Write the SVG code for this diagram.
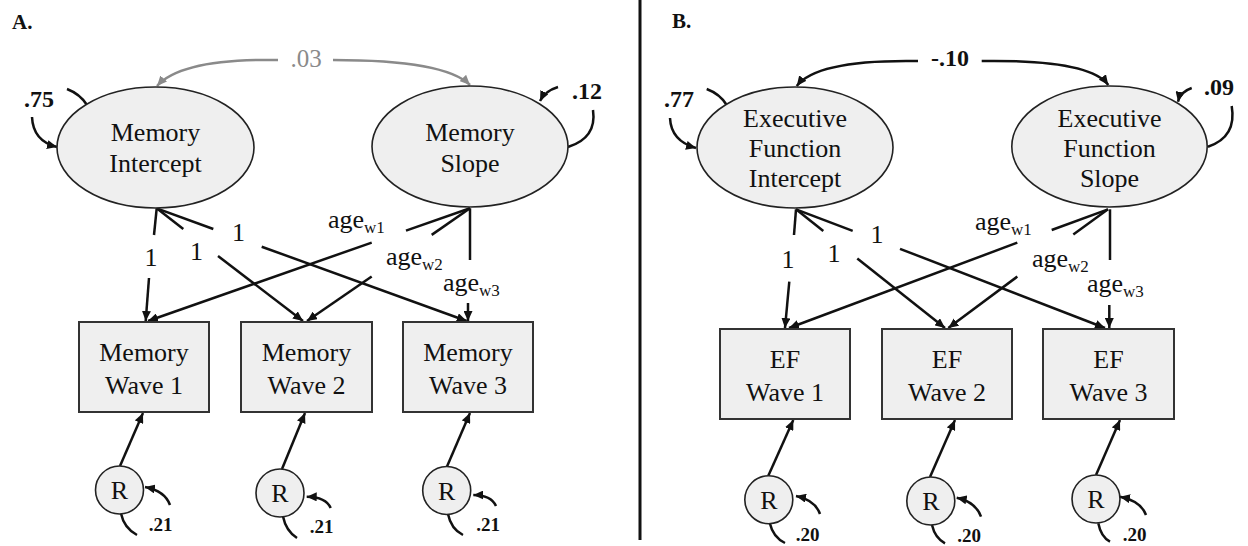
<svg xmlns="http://www.w3.org/2000/svg" width="1248" height="546" viewBox="0 0 1248 546" font-family="'Liberation Serif', 'Times New Roman', 'DejaVu Serif', serif">
<defs>
<marker id="ah" markerUnits="userSpaceOnUse" markerWidth="11" markerHeight="9" refX="10" refY="4.5" orient="auto"><path d="M0,0 L10,4.5 L0,9 z" fill="#111"/></marker>
<marker id="ahg" markerUnits="userSpaceOnUse" markerWidth="11" markerHeight="9" refX="10" refY="4.5" orient="auto"><path d="M0,0 L10,4.5 L0,9 z" fill="#8a8a8a"/></marker>
<style>
.lat{fill:#efefef;stroke:#222;stroke-width:1.6}
.box{fill:#efefef;stroke:#333;stroke-width:2}
.t{font-size:26px;fill:#111;text-anchor:middle}
.lb{font-size:26px;fill:#111}
.sub{font-size:17px}
.b{font-weight:bold;font-size:24px;fill:#111;text-anchor:middle}
.rb{font-weight:bold;font-size:19px;fill:#111;text-anchor:middle}
.ttl{font-weight:bold;font-size:21px;fill:#111}
.c{fill:none;stroke:#111;stroke-width:2.5}
.a{fill:none;stroke:#111;stroke-width:2.5;marker-end:url(#ah)}
.g{fill:none;stroke:#8a8a8a;stroke-width:2.5;marker-end:url(#ahg)}
</style>
</defs>
<rect width="1248" height="546" fill="#fff"/>
<text class="ttl" x="12" y="29">A.</text>
<text class="ttl" x="672" y="28">B.</text>
<line x1="640" y1="0" x2="640" y2="540" stroke="#111" stroke-width="3"/>

<g id="connectors">
<path class="g" d="M278,60 C220,59 175,66 157,86"/>
<path class="g" d="M333,60 C400,60 452,67 470,85"/>
<text x="306" y="67" font-size="25" fill="#8a8a8a" text-anchor="middle">.03</text>
<path class="c" d="M67,89 Q80,94 87,105"/>
<path class="a" d="M32,117 Q33,141 57,147"/>
<text class="b" x="39" y="107">.75</text>
<path class="a" d="M558,87 Q545,91 540,101"/>
<path class="c" d="M593,110 Q597,138 568,147"/>
<text class="b" x="587" y="99">.12</text>
<path class="c" d="M156.7,208.3 L154,235"/>
<path class="a" d="M149,278 L145.7,321"/>
<text class="t" x="151" y="266">1</text>
<path class="c" d="M156.7,208.3 L183.3,229"/>
<path class="a" d="M218,256 L303,321"/>
<text class="t" x="196.5" y="260">1</text>
<path class="c" d="M156.7,208.3 L213.3,229"/>
<path class="a" d="M261.7,246.7 L466.7,321"/>
<text class="t" x="238.5" y="241">1</text>
<path class="c" d="M470,208.3 L406,230.6"/>
<path class="a" d="M371.7,242.6 L148,321"/>
<text class="lb" x="328" y="228">age<tspan class="sub" dy="5">w1</tspan></text>
<path class="c" d="M470,208.3 L431.7,234.9"/>
<path class="a" d="M371.7,276.5 L307,321"/>
<text class="lb" x="386" y="265">age<tspan class="sub" dy="5">w2</tspan></text>
<path class="c" d="M470,208.3 L470,260"/>
<path class="a" d="M468,303 L468,321"/>
<text class="lb" x="443" y="291">age<tspan class="sub" dy="5">w3</tspan></text>
<path class="a" d="M120,466 L143,413"/>
<path class="a" d="M282,469 L305,413"/>
<path class="a" d="M447,466.5 L470,413"/>
<path class="a" d="M170,505 Q165,491 145,487"/>
<path class="c" d="M121,513.5 Q124,528 137,535"/>
<text class="rb" x="160.5" y="531">.21</text>
<path class="a" d="M330.7,508 Q326,497 306.7,496.7"/>
<path class="c" d="M283,516.5 Q286,531 297,538"/>
<text class="rb" x="321.5" y="533">.21</text>
<path class="a" d="M496,506 Q491,495 473.3,495"/>
<path class="c" d="M448,514 Q451,529 463,535"/>
<text class="rb" x="488" y="531">.21</text>

<path class="a" d="M918,61 C860,60 812,66 796.7,86"/>
<path class="a" d="M981.7,61 C1050,60 1095,67 1108.3,85"/>
<text class="b" x="950" y="66">-.10</text>
<path class="c" d="M706.7,89 Q720,94 726.7,105"/>
<path class="a" d="M670,118 Q671,141 696,148"/>
<text class="b" x="679" y="107">.77</text>
<path class="a" d="M1191.7,88 Q1180,92 1178,101.7"/>
<path class="c" d="M1231.7,106 Q1237,137 1208,146.7"/>
<text class="b" x="1219" y="95">.09</text>
<path class="c" d="M796,209.3 L794,235"/>
<path class="a" d="M789.3,281.7 L785,328"/>
<text class="t" x="788" y="268">1</text>
<path class="c" d="M796,209.3 L823.3,231"/>
<path class="a" d="M857.3,258.4 L945,328"/>
<text class="t" x="834" y="262">1</text>
<path class="c" d="M796,209.3 L852.7,230.8"/>
<path class="a" d="M900,248.8 L1105,328"/>
<text class="t" x="877" y="243">1</text>
<path class="c" d="M1108,209.3 L1051.7,230"/>
<path class="a" d="M1017.3,242.7 L789,328"/>
<text class="lb" x="975" y="230">age<tspan class="sub" dy="5">w1</tspan></text>
<path class="c" d="M1108,209.3 L1073.3,234.6"/>
<path class="a" d="M1017.3,276.6 L948.3,328"/>
<text class="lb" x="1032" y="267">age<tspan class="sub" dy="5">w2</tspan></text>
<path class="c" d="M1110,209.3 L1110,260"/>
<path class="a" d="M1109.3,305 L1109.3,328"/>
<text class="lb" x="1087" y="292">age<tspan class="sub" dy="5">w3</tspan></text>
<path class="a" d="M768.3,475.7 L793.3,420"/>
<path class="a" d="M930,477 L955,420"/>
<path class="a" d="M1096,475 L1120,420"/>
<path class="a" d="M820,514 Q815,500 796,496"/>
<path class="c" d="M770,523.7 Q773,537 785,543"/>
<text class="rb" x="807.5" y="541">.20</text>
<path class="a" d="M981,516.7 Q976,502 956.7,497.7"/>
<path class="c" d="M932,525 Q935,538 945,543.3"/>
<text class="rb" x="969" y="542">.20</text>
<path class="a" d="M1146,515 Q1141,501 1120,496.7"/>
<path class="c" d="M1098.3,523.3 Q1101,537 1110,541.7"/>
<text class="rb" x="1134.7" y="541">.20</text>
</g>

<g id="memory-intercept"><ellipse class="lat" cx="155.5" cy="147.5" rx="98.5" ry="60.5"/><text class="t" x="155.5" y="141">Memory</text><text class="t" x="155.5" y="172">Intercept</text></g>
<g id="memory-slope"><ellipse class="lat" cx="470" cy="146.5" rx="98" ry="60.5"/><text class="t" x="470" y="141">Memory</text><text class="t" x="470" y="172">Slope</text></g>
<g id="memory-wave1"><rect class="box" x="79" y="322" width="130" height="90"/><text class="t" x="144" y="361">Memory</text><text class="t" x="144" y="394">Wave 1</text></g>
<g id="memory-wave2"><rect class="box" x="241" y="322" width="131" height="90"/><text class="t" x="306.5" y="361">Memory</text><text class="t" x="306.5" y="394">Wave 2</text></g>
<g id="memory-wave3"><rect class="box" x="403" y="322" width="130" height="90"/><text class="t" x="468" y="361">Memory</text><text class="t" x="468" y="394">Wave 3</text></g>
<g id="rA1"><circle class="lat" cx="119.5" cy="490" r="24"/><text class="t" x="119.5" y="499">R</text></g>
<g id="rA2"><circle class="lat" cx="280" cy="493" r="24"/><text class="t" x="280" y="502">R</text></g>
<g id="rA3"><circle class="lat" cx="446.7" cy="490.5" r="24"/><text class="t" x="446.7" y="499.5">R</text></g>

<g id="ef-intercept"><ellipse class="lat" cx="795" cy="147.5" rx="98" ry="60.5"/><text class="t" x="795" y="127">Executive</text><text class="t" x="795" y="157">Function</text><text class="t" x="795" y="187">Intercept</text></g>
<g id="ef-slope"><ellipse class="lat" cx="1109.5" cy="146.5" rx="97.7" ry="60.5"/><text class="t" x="1109.5" y="127">Executive</text><text class="t" x="1109.5" y="157">Function</text><text class="t" x="1109.5" y="187">Slope</text></g>
<g id="ef-wave1"><rect class="box" x="720" y="329" width="130" height="90"/><text class="t" x="785" y="368">EF</text><text class="t" x="785" y="401">Wave 1</text></g>
<g id="ef-wave2"><rect class="box" x="882" y="329" width="130" height="90"/><text class="t" x="947" y="368">EF</text><text class="t" x="947" y="401">Wave 2</text></g>
<g id="ef-wave3"><rect class="box" x="1043" y="329" width="131" height="90"/><text class="t" x="1108.5" y="368">EF</text><text class="t" x="1108.5" y="401">Wave 3</text></g>
<g id="rB1"><circle class="lat" cx="768.8" cy="499.7" r="24"/><text class="t" x="768.8" y="508.7">R</text></g>
<g id="rB2"><circle class="lat" cx="930.8" cy="501" r="24"/><text class="t" x="930.8" y="510">R</text></g>
<g id="rB3"><circle class="lat" cx="1096" cy="499" r="24"/><text class="t" x="1096" y="508">R</text></g>
</svg>
